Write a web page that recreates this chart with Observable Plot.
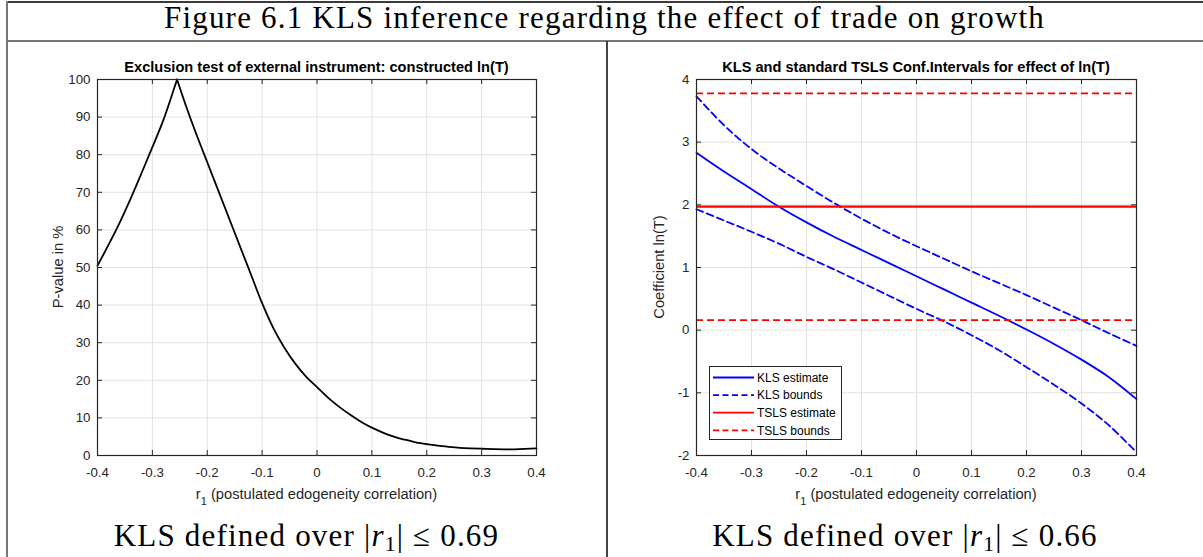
<!DOCTYPE html>
<html>
<head>
<meta charset="utf-8">
<script src="https://cdn.jsdelivr.net/npm/d3@7"></script>
<script src="https://cdn.jsdelivr.net/npm/@observablehq/plot@0.6"></script>
<style>
  html, body { margin: 0; padding: 0; background: #fff; }
  #page { position: relative; width: 1203px; height: 557px; overflow: hidden;
          font-family: "Liberation Sans", Arial, Helvetica, sans-serif; }
  .rule { position: absolute; }
  .serif { position: absolute; font-family: "Liberation Serif", "Times New Roman", serif;
           font-size: 31px; line-height: 34px; letter-spacing: 1.2px; color: #000;
           text-align: center; white-space: nowrap; }
  .serif sub { font-size: 0.7em; vertical-align: -0.25em; line-height: 0; }
  .ptitle { position: absolute; font-weight: bold; font-size: 14.6px; line-height: 16px;
            text-align: center; color: #000; white-space: nowrap; }
  .xlab { position: absolute; font-size: 14.7px; line-height: 16px; text-align: center;
          color: #262626; white-space: nowrap; }
  .xlab sub { font-size: 0.75em; vertical-align: -0.55em; line-height: 0; }
  .ylab { position: absolute; width: 300px; font-size: 14.7px; line-height: 16px;
          text-align: center; color: #262626; white-space: nowrap; transform: rotate(-90deg); }
  .legend { position: absolute; box-sizing: border-box; border: 1px solid #262626; background: #fff; }
</style>
</head>
<body>
<div id="page">
  <div class="rule" style="left:6px;top:1px;width:1197px;height:2px;background:#3a3a3a"></div>
  <div class="rule" style="left:6px;top:1px;width:2px;height:556px;background:#777"></div>
  <div class="rule" style="left:6px;top:40px;width:1197px;height:2px;background:#777"></div>
  <div class="rule" style="left:606px;top:41px;width:2px;height:516px;background:#444"></div>

  <div class="serif" style="left:6px;width:1197px;top:1px">Figure 6.1 KLS inference regarding the effect of trade on growth</div>

  <div class="ptitle" style="left:97px;width:439px;top:59px">Exclusion test of external instrument: constructed ln(T)</div>
  <div class="ptitle" style="left:696px;width:440px;top:59px">KLS and standard TSLS Conf.Intervals for effect of ln(T)</div>

  <div class="xlab" style="left:97px;width:439px;top:486px">r<sub>1</sub> (postulated edogeneity correlation)</div>
  <div class="xlab" style="left:696px;width:440px;top:486px">r<sub>1</sub> (postulated edogeneity correlation)</div>

  <div class="ylab" style="left:-92px;top:259px">P-value in %</div>
  <div class="ylab" style="left:509px;top:259px">Coefficient ln(T)</div>

  <div class="serif" style="left:6px;width:601px;top:519px">KLS defined over |<i>r</i><sub>1</sub>| ≤ 0.69</div>
  <div class="serif" style="left:607px;width:596px;top:519px">KLS defined over |<i>r</i><sub>1</sub>| ≤ 0.66</div>
</div>
<script>
// Shared axis ticks
const xTicks = [-0.4, -0.3, -0.2, -0.1, 0, 0.1, 0.2, 0.3, 0.4];
const pTicks = [0, 10, 20, 30, 40, 50, 60, 70, 80, 90, 100];
const coefTicks = [-2, -1, 0, 1, 2, 3, 4];

// Exclusion test p-value (%) as a function of the postulated correlation r1
const pvalR = [-0.40, -0.38, -0.36, -0.34, -0.32, -0.30, -0.28, -0.26, -0.255, -0.24, -0.22, -0.20,
               -0.18, -0.16, -0.14, -0.12, -0.10, -0.08, -0.06, -0.04, -0.02, 0.00, 0.02, 0.04,
               0.06, 0.08, 0.10, 0.12, 0.14, 0.16, 0.18, 0.20, 0.22, 0.24, 0.26, 0.28, 0.30,
               0.32, 0.34, 0.36, 0.38, 0.40];
const pvalP = [50.5, 56, 61.8, 68.2, 75, 82, 89.2, 97.8, 100, 93.5, 85.5, 78,
               70.5, 63, 55.5, 48, 40.5, 34, 28.8, 24.5, 21.0, 18.2, 15.4, 13.0,
               10.9, 9.0, 7.4, 6.1, 5.0, 4.2, 3.5, 3.0, 2.6, 2.3, 2.05, 1.9, 1.8,
               1.7, 1.65, 1.65, 1.75, 1.9];
const peakR = -0.255;

// KLS point estimate and confidence bounds for the ln(T) coefficient
const klsR = [-0.4, -0.35, -0.3, -0.25, -0.2, -0.15, -0.1, -0.05, 0, 0.05, 0.1, 0.15, 0.2, 0.25, 0.3, 0.35, 0.4];
const klsEstimate = [2.83, 2.53, 2.25, 1.97, 1.72, 1.49, 1.28, 1.07, 0.86, 0.65, 0.44, 0.23, 0.01, -0.22, -0.47, -0.75, -1.1];
const klsUpper = [3.73, 3.27, 2.89, 2.58, 2.30, 2.03, 1.78, 1.55, 1.34, 1.14, 0.94, 0.75, 0.56, 0.36, 0.16, -0.05, -0.25];
const klsLower = [1.93, 1.75, 1.57, 1.38, 1.17, 0.97, 0.76, 0.55, 0.34, 0.14, -0.08, -0.32, -0.59, -0.87, -1.17, -1.52, -1.95];

// Standard TSLS estimate and interval (constant in r1)
const tslsEstimate = 1.97;
const tslsBounds = [0.16, 3.78];

// Legend entries
const legendLabels = ["KLS estimate", "KLS bounds", "TSLS estimate", "TSLS bounds"];
const legendColors = ["#0000ff", "#0000ff", "#ff0000", "#ff0000"];
const legendDashed = [false, true, false, true];

const AX = "#262626";
const GRID = "#e2e2e2";
const DASH = "7,4";
const FRAME_H = 376;
const page = document.getElementById("page");

// MATLAB-style axes box: grid, inward ticks on all four sides, frame, tick labels
function boxMarks(yTicks, frameW) {
  const fmt = d => String(d);
  return {
    under: [
      Plot.gridX(xTicks, {stroke: GRID, strokeOpacity: 1}),
      Plot.gridY(yTicks, {stroke: GRID, strokeOpacity: 1})
    ],
    over: [
      Plot.ruleX(xTicks, {x: d => d, insetTop: FRAME_H - 5, stroke: AX}),
      Plot.ruleX(xTicks, {x: d => d, insetBottom: FRAME_H - 5, stroke: AX}),
      Plot.ruleY(yTicks, {y: d => d, insetRight: frameW - 5, stroke: AX}),
      Plot.ruleY(yTicks, {y: d => d, insetLeft: frameW - 5, stroke: AX}),
      Plot.frame({stroke: AX, strokeWidth: 1.2}),
      Plot.axisX(xTicks, {tickSize: 0, tickPadding: 12, tickFormat: fmt, label: null}),
      Plot.axisY(yTicks, {tickSize: 0, tickPadding: 7, tickFormat: fmt, label: null})
    ]
  };
}

const plotStyle = {
  fontFamily: "'Liberation Sans', Arial, Helvetica, sans-serif",
  fontSize: "13.3px",
  color: AX,
  background: "transparent",
  overflow: "visible"
};

function place(svg, left, top) {
  svg.style.position = "absolute";
  svg.style.left = left + "px";
  svg.style.top = top + "px";
  page.appendChild(svg);
}

// Left panel: p-value curve, split at the peak so the cusp stays sharp
const pvalRows = [];
pvalR.forEach((r, i) => {
  if (r <= peakR) pvalRows.push({r, p: pvalP[i], side: "rise"});
  if (r >= peakR) pvalRows.push({r, p: pvalP[i], side: "fall"});
});
{
  const W = 600, ml = 97, mr = 64;
  const box = boxMarks(pTicks, W - ml - mr);
  const svg = Plot.plot({
    width: W, height: 475,
    marginLeft: ml, marginRight: mr, marginTop: 38, marginBottom: 61,
    style: plotStyle,
    x: {domain: [-0.4, 0.4]},
    y: {domain: [0, 100]},
    marks: [
      ...box.under,
      Plot.line(pvalRows, {x: "r", y: "p", z: "side", stroke: "#000", strokeWidth: 1.8, curve: "catmull-rom"}),
      ...box.over
    ]
  });
  place(svg, 0, 41);
}

// Right panel: KLS estimate/bounds and TSLS estimate/bounds
const klsRows = klsR.map((r, i) => ({r, est: klsEstimate[i], upper: klsUpper[i], lower: klsLower[i]}));
{
  const W = 603, ml = 96, mr = 67;
  const box = boxMarks(coefTicks, W - ml - mr);
  const svg = Plot.plot({
    width: W, height: 475,
    marginLeft: ml, marginRight: mr, marginTop: 38, marginBottom: 61,
    style: plotStyle,
    x: {domain: [-0.4, 0.4]},
    y: {domain: [-2, 4]},
    marks: [
      ...box.under,
      Plot.line(klsRows, {x: "r", y: "est", stroke: "#0000ff", strokeWidth: 1.8, curve: "catmull-rom"}),
      Plot.line(klsRows, {x: "r", y: "upper", stroke: "#0000ff", strokeWidth: 1.8, strokeDasharray: DASH, curve: "catmull-rom"}),
      Plot.line(klsRows, {x: "r", y: "lower", stroke: "#0000ff", strokeWidth: 1.8, strokeDasharray: DASH, curve: "catmull-rom"}),
      Plot.ruleY([tslsEstimate], {stroke: "#ff0000", strokeWidth: 2.2}),
      Plot.ruleY(tslsBounds, {stroke: "#ff0000", strokeWidth: 1.8, strokeDasharray: DASH}),
      ...box.over
    ]
  });
  place(svg, 600, 41);
}

// Legend box inside the right axes
{
  const lg = document.createElement("div");
  lg.className = "legend";
  Object.assign(lg.style, {left: "709px", top: "366px", width: "133px", height: "74px"});
  const svg = d3.create("svg").attr("width", 131).attr("height", 72)
    .style("font-family", "'Liberation Sans', Arial, sans-serif").style("font-size", "12px");
  legendLabels.forEach((label, i) => {
    const y = 10.5 + i * 17.6;
    svg.append("line").attr("x1", 3).attr("x2", 44).attr("y1", y).attr("y2", y)
      .attr("stroke", legendColors[i]).attr("stroke-width", 1.8)
      .attr("stroke-dasharray", legendDashed[i] ? "6,3.5" : null);
    svg.append("text").attr("x", 47).attr("y", y).attr("dy", "0.35em").attr("fill", "#000").text(label);
  });
  lg.appendChild(svg.node());
  page.appendChild(lg);
}
</script>
</body>
</html>
